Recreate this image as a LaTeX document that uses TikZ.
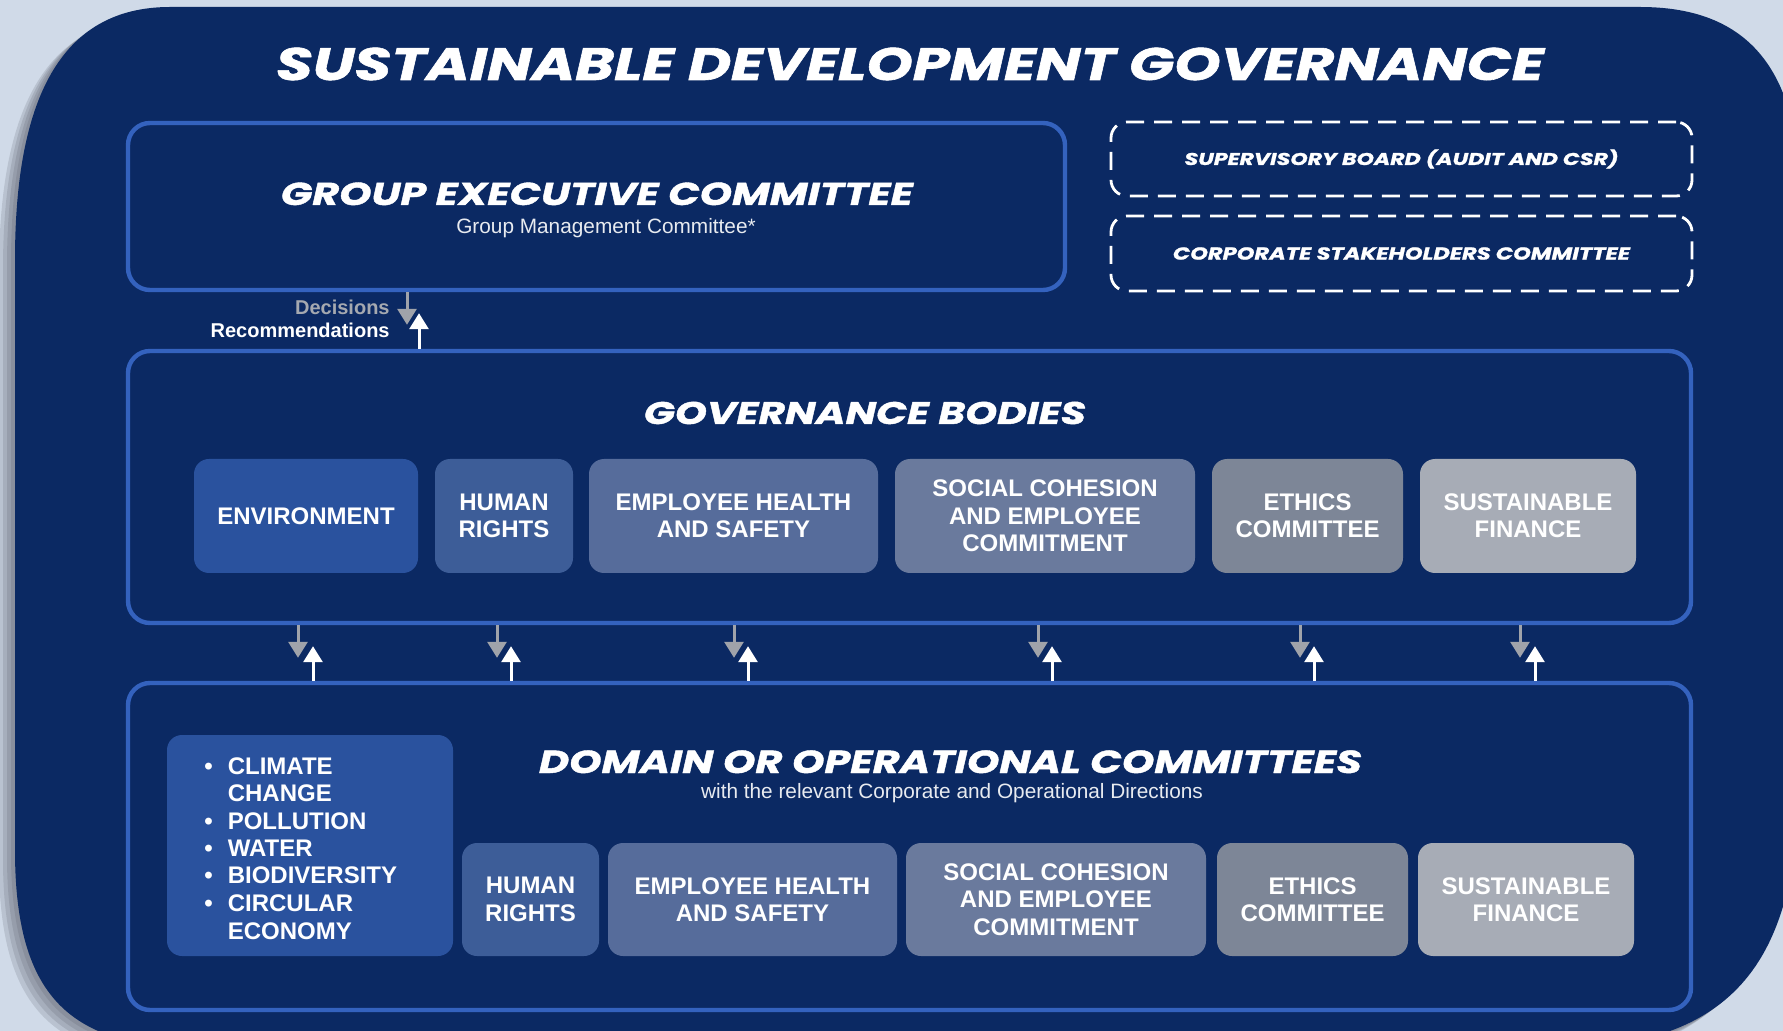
\documentclass[tikz,border=0pt]{standalone}
\usepackage{fontspec}
\usepackage{graphicx}
\setmainfont{Liberation Sans}
\newfontfamily\headfont{Poppins}[FakeStretch=1.3,FakeBold=1.3]
\usetikzlibrary{arrows.meta}
\definecolor{navy}{RGB}{11,41,99}
\definecolor{bglight}{RGB}{208,218,232}
\definecolor{shadowc}{RGB}{70,74,84}
\definecolor{bordblue}{RGB}{52,98,190}
\definecolor{arrgrey}{RGB}{160,163,170}
\definecolor{decgrey}{RGB}{165,169,176}
\definecolor{subwhite}{RGB}{232,235,240}
\definecolor{cA}{RGB}{42,82,158}
\definecolor{cB}{RGB}{61,93,152}
\definecolor{cC}{RGB}{86,108,155}
\definecolor{cD}{RGB}{106,122,157}
\definecolor{cE}{RGB}{125,134,151}
\definecolor{cF}{RGB}{167,172,182}
\newcommand\navyshape{(15,260) .. controls (15,100) and (60,7) .. (170,7)
 -- (1640,7) .. controls (1740,7) and (1800,60) .. (1800,200)
 -- (1800,760) .. controls (1800,960) and (1740,1050) .. (1540,1050)
 -- (220,1050) .. controls (80,1050) and (15,1010) .. (15,850) -- cycle}
\tikzset{
  frame/.style={draw=bordblue, line width=2.2pt, fill=navy, rounded corners=11pt, inner sep=0pt},
  dashbox/.style={draw=white, line width=1.4pt, dash pattern=on 9pt off 5pt, rounded corners=8pt,
     inner sep=0pt, text=white},
  cbox/.style={rounded corners=7.5pt, inner sep=0pt, text=white,
     font=\fontsize{12}{13.65}\selectfont\bfseries, align=center},
  head/.style={text=white, inner sep=0pt, anchor=base},
  darr/.style={draw=arrgrey, line width=1.5pt, -{Triangle[width=9.5pt,length=8pt]}},
  uarr/.style={draw=white, line width=1.5pt, -{Triangle[width=9.5pt,length=8pt]}}
}
\begin{document}
\begin{tikzpicture}[x=0.5pt,y=-0.5pt]
\useasboundingbox (0,0) rectangle (1783,1031);
\clip (0,0) rectangle (1783,1031);
\fill[bglight] (0,0) rectangle (1783,1031);
% shadow and navy panel
\foreach \i in {4,3,2,1}{
  \fill[shadowc, opacity=0.16, shift={(-4*\i,3*\i)}] \navyshape;
}
\fill[navy] \navyshape;

% title
\node[head] (title) at (910,80) {\resizebox{634pt}{!}{\headfont\bfseries\itshape SUSTAINABLE DEVELOPMENT GOVERNANCE}};

% group executive committee
\node[frame, minimum width=468.5pt, minimum height=83.5pt] (gec) at (596.5,206.5) {};
\node[head] (gect) at (597,205) {\resizebox{316pt}{!}{\headfont\bfseries\itshape GROUP EXECUTIVE COMMITTEE}};
\node[head, text=subwhite, font=\fontsize{10.4}{12}\selectfont] (gecs) at (606,233.5) {Group Management Committee*};

% dashed boxes
\node[dashbox, minimum width=290.5pt, minimum height=37pt] (sup) at (1401.5,159)
  {\resizebox{217pt}{!}{\headfont\bfseries\itshape SUPERVISORY BOARD (AUDIT AND CSR)}};
\node[dashbox, minimum width=290.5pt, minimum height=37.5pt] (csc) at (1401.5,253.5)
  {\resizebox{228.5pt}{!}{\headfont\bfseries\itshape CORPORATE STAKEHOLDERS COMMITTEE}};

% governance bodies frame
\node[frame, minimum width=781.5pt, minimum height=136pt] (gov) at (909.5,487) {};
\node[head] (govt) at (865,424) {\resizebox{221pt}{!}{\headfont\bfseries\itshape GOVERNANCE BODIES}};

% decisions / recommendations
\node[anchor=base east, inner sep=0pt, text=decgrey, font=\fontsize{10}{12}\selectfont\bfseries] (dec) at (390,315) {Decisions};
\node[anchor=base east, inner sep=0pt, text=white, font=\fontsize{10}{12}\selectfont\bfseries] (rec) at (390,338) {Recommendations};
\draw[darr, shorten >=12pt] (407,0 |- gec.south) -- (407,0 |- gov.north);
\draw[uarr, shorten >=10.5pt] (419,0 |- gov.north) -- (419,0 |- gec.south);

% row 1
\node[cbox, fill=cA, minimum width=112pt, minimum height=57pt] (env1) at (306,516) {ENVIRONMENT};
\node[cbox, fill=cB, minimum width=69pt, minimum height=57pt] (hr1) at (504,516) {HUMAN\\RIGHTS};
\node[cbox, fill=cC, minimum width=144.5pt, minimum height=57pt] (ehs1) at (733.5,516) {EMPLOYEE HEALTH\\AND SAFETY};
\node[cbox, fill=cD, minimum width=150pt, minimum height=57pt] (sc1) at (1045,516) {SOCIAL COHESION\\AND EMPLOYEE\\COMMITMENT};
\node[cbox, fill=cE, minimum width=95.5pt, minimum height=57pt] (eth1) at (1307.5,516) {ETHICS\\COMMITTEE};
\node[cbox, fill=cF, minimum width=108pt, minimum height=57pt] (sf1) at (1528,516) {SUSTAINABLE\\FINANCE};

% domain frame
\node[frame, minimum width=781.5pt, minimum height=163.5pt] (dom) at (909.5,846.5) {};
\node[head] (domt) at (950.5,773) {\resizebox{411.5pt}{!}{\headfont\bfseries\itshape DOMAIN OR OPERATIONAL COMMITTEES}};
\node[head, text=subwhite, font=\fontsize{10.4}{12}\selectfont] (doms) at (952,798.5) {with the relevant Corporate and Operational Directions};

% arrows between frames
\foreach \g/\w in {298/313, 497/511, 734/748, 1038/1052, 1300/1314, 1520/1535}{
  \draw[darr, shorten >=11.5pt] (\g,0 |- gov.south) -- (\g,0 |- dom.north);
  \draw[uarr, shorten >=10.5pt] (\w,0 |- dom.north) -- (\w,0 |- gov.south);
}

% row 2
\node[cbox, fill=cA, minimum width=143pt, minimum height=110.5pt] (env2) at (310,845.5) {};
\node[anchor=base west, inner sep=0pt, text=white, font=\fontsize{12}{13.75}\selectfont\bfseries] (envlist) at (204,774)
 {\begin{tabular}[t]{@{}c@{\hspace{7.5pt}}l@{}}
  \textbullet & CLIMATE\\
              & CHANGE\\
  \textbullet & POLLUTION\\
  \textbullet & WATER\\
  \textbullet & BIODIVERSITY\\
  \textbullet & CIRCULAR\\
              & ECONOMY
  \end{tabular}};
\node[cbox, fill=cB, minimum width=68.5pt, minimum height=56.5pt] (hr2) at (530.5,899.5) {HUMAN\\RIGHTS};
\node[cbox, fill=cC, minimum width=144.5pt, minimum height=56.5pt] (ehs2) at (752.5,899.5) {EMPLOYEE HEALTH\\AND SAFETY};
\node[cbox, fill=cD, minimum width=150pt, minimum height=56.5pt] (sc2) at (1056,899.5) {SOCIAL COHESION\\AND EMPLOYEE\\COMMITMENT};
\node[cbox, fill=cE, minimum width=95.5pt, minimum height=56.5pt] (eth2) at (1312.5,899.5) {ETHICS\\COMMITTEE};
\node[cbox, fill=cF, minimum width=108pt, minimum height=56.5pt] (sf2) at (1526,899.5) {SUSTAINABLE\\FINANCE};
\end{tikzpicture}
\end{document}
